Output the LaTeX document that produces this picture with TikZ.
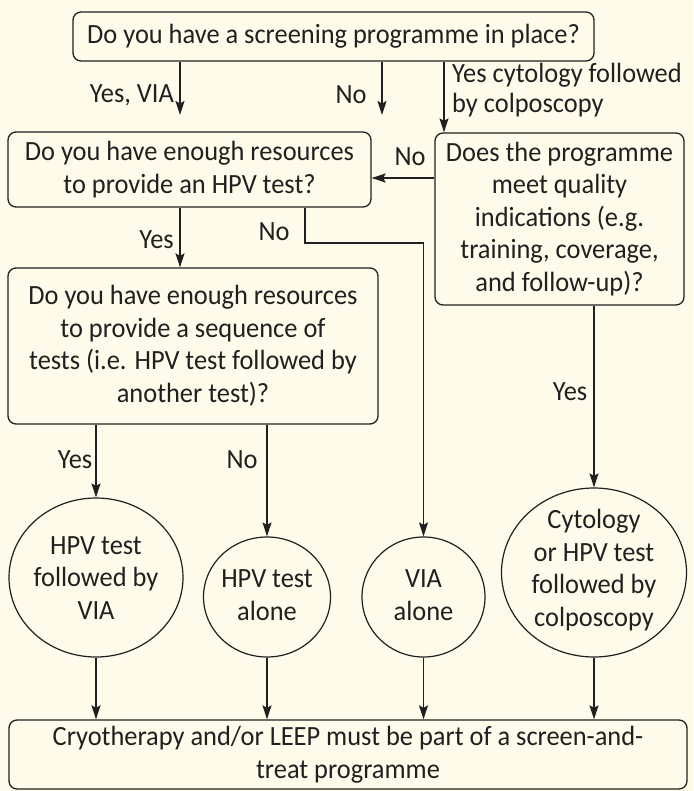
\documentclass[tikz,border=0pt]{standalone}
\usepackage{fontspec}
\setmainfont{Carlito}[FakeStretch=0.95]
\usetikzlibrary{shapes.geometric,arrows.meta}
\definecolor{bgc}{RGB}{254,251,234}
\definecolor{ink}{RGB}{35,31,32}
\tikzset{
  every node/.style={text=ink,font=\fontsize{27.8}{32.5}\selectfont},
  rbox/.style={draw=ink,line width=1.3pt,rounded corners=8pt,inner sep=0pt,align=center},
  oval/.style={draw=ink,line width=1.2pt,ellipse,inner sep=0pt},
  txt/.style={inner sep=0pt,align=center},
  lbl/.style={inner sep=0pt},
  conn/.style={draw=ink,line width=1.3pt,-{Stealth[length=14pt,width=9pt,inset=2.5pt]}},
}
\begin{document}
\begin{tikzpicture}[x=1pt,y=-1pt]
\useasboundingbox (0,0) rectangle (693,791);
\fill[bgc] (0,0) rectangle (693,791);

\node[rbox,minimum width=521pt,minimum height=49pt] (top) at (333.5,36.5) {Do you have a screening programme in place?};
\node[rbox,minimum width=363pt,minimum height=75pt] (res) at (189.5,169.5) {Do you have enough resources\\to provide an HPV test?};
\node[rbox,minimum width=249pt,minimum height=172pt] (qual) at (559.5,219) {Does the programme\\meet quality\\indications (e.g.\\training, coverage,\\and follow-up)?};
\node[rbox,minimum width=370pt,minimum height=156pt] (seq) at (193,346) {Do you have enough resources\\to provide a sequence of\\tests (i.e. HPV test followed by\\another test)?};

\node[oval,minimum width=174pt,minimum height=159pt] (c1) at (96,577.5) {};
\node[txt] (c1t) at (96,578) {HPV test\\followed by\\VIA};
\node[oval,minimum width=127pt,minimum height=120pt] (c2) at (267,597) {};
\node[txt] (c2t) at (267,595) {HPV test\\alone};
\node[oval,minimum width=123pt,minimum height=120pt] (c3) at (423.5,597) {};
\node[txt] (c3t) at (423.5,595) {VIA\\alone};
\node[oval,minimum width=185pt,minimum height=169pt] (c4) at (594,572.5) {};
\node[txt] (c4t) at (594,570) {Cytology\\or HPV test\\followed by\\colposcopy};

\node[rbox,minimum width=678pt,minimum height=69pt] (fin) at (348,754.5) {Cryotherapy and/or LEEP must be part of a screen-and-\\treat programme};

\coordinate (e1) at (180,115);
\coordinate (e2) at (382,115);

\draw[conn] (top.south -| e1) -- (e1);
\draw[conn] (top.south -| e2) -- (e2);
\draw[conn] (top.south -| 444,0) -- (qual.north -| 444,0);
\draw[conn] (qual.west |- 0,178) -- (res.east |- 0,178);
\draw[conn] (res.south -| 180,0) -- (seq.north -| 180,0);
\draw[conn] (res.south -| 305,0) -- (305,243) -- (423.5,243) -- (c3.north);
\draw[conn] (seq.south -| c1.north) -- (c1.north);
\draw[conn] (seq.south -| c2.north) -- (c2.north);
\draw[conn] (qual.south -| c4.north) -- (c4.north);
\draw[conn] (c1.south) -- (fin.north -| c1.south);
\draw[conn] (c2.south) -- (fin.north -| c2.south);
\draw[conn] (c3.south) -- (fin.north -| c3.south);
\draw[conn] (c4.south) -- (fin.north -| c4.south);

\node[lbl,anchor=east] (l1) at (174,95) {Yes, VIA};
\node[lbl] (l2) at (351,95) {No};
\node[lbl,anchor=north west,align=left,font=\fontsize{27.8}{30}\selectfont] (l3) at (452,63) {Yes cytology followed\\by colposcopy};
\node[lbl] (l4) at (410,157) {No};
\node[lbl,anchor=east] (l5) at (174,240) {Yes};
\node[lbl] (l6) at (274,232) {No};
\node[lbl] (l7) at (75,460) {Yes};
\node[lbl] (l8) at (242,460) {No};
\node[lbl] (l9) at (570,392) {Yes};
\end{tikzpicture}
\end{document}
